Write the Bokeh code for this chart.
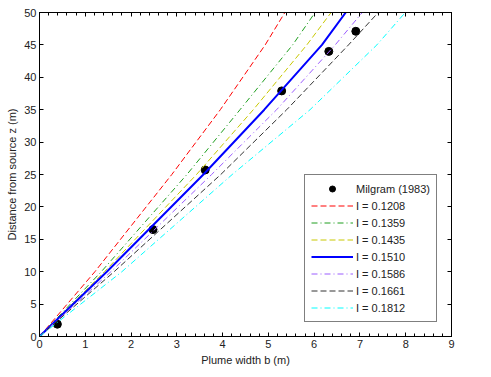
from bokeh.plotting import figure
from bokeh.models import LinearAxis, Range1d, FixedTicker, Legend, LegendItem
from bokeh.embed import file_html
from bokeh.resources import INLINE

# Data
z_levels = [0, 10, 25, 35, 45, 50]
b_0_1208 = [0, 1.21, 2.89, 3.95, 4.93, 5.36]
b_0_1359 = [0, 1.35, 3.22, 4.38, 5.53, 6.02]
b_0_1435 = [0, 1.42, 3.43, 4.67, 5.84, 6.37]
b_0_1510 = [0, 1.47, 3.58, 4.91, 6.17, 6.69]
b_0_1586 = [0, 1.56, 3.76, 5.18, 6.46, 7.05]
b_0_1661 = [0, 1.63, 3.96, 5.40, 6.75, 7.40]
b_0_1812 = [0, 1.80, 4.21, 5.91, 7.37, 7.99]

milgram_b = [0.39, 2.48, 3.62, 5.29, 6.32, 6.91]
milgram_z = [1.9, 16.5, 25.7, 37.9, 44.0, 47.1]

x_ticks = [0, 1, 2, 3, 4, 5, 6, 7, 8, 9]
y_ticks = [0, 5, 10, 15, 20, 25, 30, 35, 40, 45, 50]
x_minor = [i * 0.2 for i in range(46)]

FONT = "Liberation Sans"
TXT = "#222222"

p = figure(width=480, height=370, output_backend="svg", toolbar_location=None,
           x_range=Range1d(0, 9), y_range=Range1d(0, 50),
           min_border_left=39, min_border_right=29, min_border_top=12, min_border_bottom=34,
           x_axis_location=None, y_axis_location=None)
p.xgrid.visible = False
p.ygrid.visible = False
p.outline_line_color = "black"
p.outline_line_width = 1
p.background_fill_color = "white"
p.border_fill_color = "white"


def style_axis(ax, labels=True, minor=None, ticks=None):
    ax.ticker = FixedTicker(ticks=ticks, minor_ticks=minor or [])
    ax.axis_line_color = "black"
    ax.major_tick_in = 4
    ax.major_tick_out = 0
    ax.minor_tick_in = 3 if minor else 0
    ax.minor_tick_out = 0
    ax.major_tick_line_color = "black"
    ax.minor_tick_line_color = "black"
    if labels:
        ax.major_label_text_font = FONT
        ax.major_label_text_font_size = "11px"
        ax.major_label_text_color = TXT
        ax.major_label_standoff = 3
        ax.axis_label_text_font = FONT
        ax.axis_label_text_font_size = "11px"
        ax.axis_label_text_font_style = "normal"
        ax.axis_label_text_color = TXT
        ax.axis_label_standoff = 3
    else:
        ax.major_label_overrides = {t: "" for t in ticks}
        ax.major_label_text_font_size = "1px"
        ax.major_label_standoff = 0


xb = LinearAxis(axis_label="Plume width b (m)")
style_axis(xb, True, x_minor, x_ticks)
p.add_layout(xb, "below")
xt = LinearAxis()
style_axis(xt, False, x_minor, x_ticks)
p.add_layout(xt, "above")
yl = LinearAxis(axis_label="Distance from source z (m)")
style_axis(yl, True, None, y_ticks)
p.add_layout(yl, "left")
yr = LinearAxis()
style_axis(yr, False, None, y_ticks)
p.add_layout(yr, "right")

series = [
    ("I = 0.1208", b_0_1208, "#FF0000", "6 3", 1),
    ("I = 0.1359", b_0_1359, "#1E9E1E", "6 3 1 3", 1),
    ("I = 0.1435", b_0_1435, "#C8C800", "6 3", 1),
    ("I = 0.1510", b_0_1510, "#0000FF", "solid", 2),
    ("I = 0.1586", b_0_1586, "#9B5CFF", "6 3 1 3", 1),
    ("I = 0.1661", b_0_1661, "#333333", "6 3", 1),
    ("I = 0.1812", b_0_1812, "#00FFFF", "6 3 1 3", 1),
]

items = []
pts = p.scatter(milgram_b, milgram_z, size=8, marker="circle", fill_color="black", line_color="black")
items.append(LegendItem(label="Milgram (1983)", renderers=[pts]))
for label, bvals, color, dash, w in series:
    r = p.line(bvals, z_levels, line_color=color, line_dash=dash, line_width=w)
    items.append(LegendItem(label=label, renderers=[r]))

legend = Legend(items=items, location=(265, 14))
legend.label_text_font = FONT
legend.label_text_font_size = "11px"
legend.label_text_color = TXT
legend.glyph_width = 42
legend.glyph_height = 15
legend.label_height = 15
legend.spacing = 2
legend.padding = 6
legend.margin = 0
legend.label_standoff = 3
legend.border_line_color = "black"
legend.border_line_width = 1
legend.background_fill_alpha = 1
p.add_layout(legend, "center")

open("out.html", "w").write(file_html(p, INLINE))
